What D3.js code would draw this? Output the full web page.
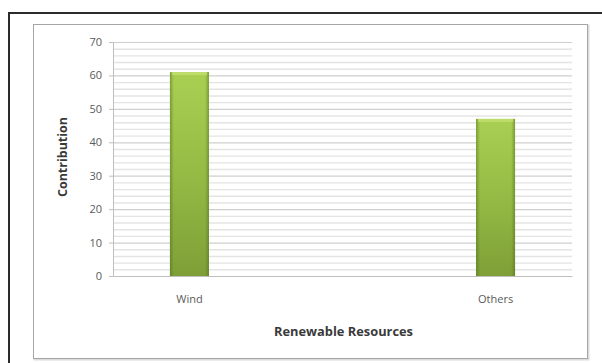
<!DOCTYPE html>
<html>
<head>
<meta charset="utf-8">
<script src="https://cdn.jsdelivr.net/npm/d3@7"></script>
<style>
    body { margin: 0; background: #fff; }
    svg { display: block; font-family: 'Open Sans', 'Liberation Sans', sans-serif; }
</style>
</head>
<body>
<svg id="chart"></svg>
<script>
//chart data
var categories = ['Wind', 'Others'];
var values = [61, 47];
var yTicks = [0, 10, 20, 30, 40, 50, 60, 70];
var minorTicks = d3.range(0, 71, 2);

//chart parameters
var svg = d3.select('#chart')
    .attr('width', 602)
    .attr('height', 363);

//define margins and chart extent
var margin = {top: 42, right: 30, bottom: 87, left: 113},
    width = +svg.attr('width') - margin.left - margin.right,
    height = +svg.attr('height') - margin.top - margin.bottom;

//define scales
var xScale = d3.scaleBand().domain(categories).range([0, width])
        .paddingInner(0.8725).paddingOuter(0.186),
    yScale = d3.scaleLinear().domain([0, 70]).range([height, 0]);

//gradients for bars
var defs = svg.append('defs');
var vgrad = defs.append('linearGradient').attr('id', 'barV')
    .attr('x1', 0).attr('y1', 0).attr('x2', 0).attr('y2', 1);
vgrad.append('stop').attr('offset', '0%').attr('stop-color', '#a9cf52');
vgrad.append('stop').attr('offset', '50%').attr('stop-color', '#95bb45');
vgrad.append('stop').attr('offset', '100%').attr('stop-color', '#7e9f37');
var hgrad = defs.append('linearGradient').attr('id', 'barH')
    .attr('x1', 0).attr('y1', 0).attr('x2', 1).attr('y2', 0);
hgrad.append('stop').attr('offset', '0%').attr('stop-color', '#4f6a1c').attr('stop-opacity', 0.5);
hgrad.append('stop').attr('offset', '10%').attr('stop-color', '#4f6a1c').attr('stop-opacity', 0);
hgrad.append('stop').attr('offset', '90%').attr('stop-color', '#4f6a1c').attr('stop-opacity', 0);
hgrad.append('stop').attr('offset', '100%').attr('stop-color', '#4f6a1c').attr('stop-opacity', 0.5);

//outer frame
svg.append('rect')
    .attr('x', 9).attr('y', 13).attr('width', 610).attr('height', 370)
    .attr('fill', 'none').attr('stroke', '#2b2b2b').attr('stroke-width', 2);

//inner chart frame with shadow
svg.append('rect')
    .attr('x', 34.5).attr('y', 25.5).attr('width', 554).attr('height', 334)
    .attr('fill', 'none').attr('stroke', '#dcdcdc').attr('stroke-width', 2);
svg.append('rect')
    .attr('x', 33.5).attr('y', 24.5).attr('width', 554).attr('height', 334)
    .attr('fill', '#fff').attr('stroke', '#a6a6a6').attr('stroke-width', 1);

//create chart group
var canvas = svg.append('g')
    .attr('transform', 'translate(' + margin.left + ',' + margin.top + ')');

//minor gridlines
canvas.append('g')
    .selectAll('line').data(minorTicks.filter(d => d % 10 !== 0))
    .enter().append('line')
        .attr('x1', 0).attr('x2', width)
        .attr('y1', d => yScale(d) + 0.5).attr('y2', d => yScale(d) + 0.5)
        .attr('stroke', '#e4e4e4').attr('stroke-width', 1.4);

//major gridlines
canvas.append('g')
    .call(d3.axisLeft(yScale).tickValues(yTicks).tickSize(-width).tickFormat(''))
    .call(g => g.select('.domain').remove())
    .call(g => g.selectAll('line').attr('stroke', '#cfcfcf').attr('stroke-width', 1.2));

//y axis
canvas.append('g')
    .call(d3.axisLeft(yScale).tickValues(yTicks).tickSize(4).tickPadding(7))
    .call(g => g.select('.domain').attr('stroke', '#bfbfbf').attr('d', 'M0.5,0V' + height))
    .call(g => g.selectAll('.tick line').attr('stroke', '#bfbfbf'))
    .call(g => g.selectAll('.tick text')
        .attr('fill', '#5a5a5a')
        .style('font-size', '11px')
        .style('font-family', "'Open Sans', sans-serif"));

//x axis
canvas.append('g')
    .attr('transform', 'translate(0,' + height + ')')
    .call(d3.axisBottom(xScale).tickSize(0).tickPadding(19))
    .call(g => g.select('.domain').attr('stroke', '#bfbfbf'))
    .call(g => g.selectAll('.tick text')
        .attr('fill', '#5a5a5a')
        .style('font-size', '11px')
        .style('font-family', "'Open Sans', sans-serif"));

//bars
var bars = canvas.selectAll('.bar').data(values)
    .enter().append('g').attr('class', 'bar');
bars.append('rect')
    .attr('x', (d, i) => xScale(categories[i]))
    .attr('y', d => yScale(d))
    .attr('width', xScale.bandwidth())
    .attr('height', d => height - yScale(d))
    .attr('fill', 'url(#barV)');
bars.append('rect')
    .attr('x', (d, i) => xScale(categories[i]))
    .attr('y', d => yScale(d))
    .attr('width', xScale.bandwidth())
    .attr('height', d => height - yScale(d))
    .attr('fill', 'url(#barH)');
bars.append('rect')
    .attr('x', (d, i) => xScale(categories[i]) + 2)
    .attr('y', d => yScale(d))
    .attr('width', xScale.bandwidth() - 4)
    .attr('height', 3)
    .attr('fill', '#c3e070').attr('opacity', 0.8);

//axis labels
canvas.append('text')
    .attr('x', width / 2 + 1)
    .attr('y', height + 60)
    .attr('text-anchor', 'middle')
    .style('font-size', '11.5px').style('font-weight', 'bold').style('fill', '#3a3a3a')
    .attr('textLength', 139).attr('lengthAdjust', 'spacingAndGlyphs')
    .text('Renewable Resources');

canvas.append('text')
    .attr('transform', 'rotate(-90) translate(' + (-yScale(35) + 2) + ',' + -46 + ')')
    .attr('text-anchor', 'middle')
    .style('font-size', '11.5px').style('font-weight', 'bold').style('fill', '#3a3a3a')
    .attr('textLength', 80).attr('lengthAdjust', 'spacingAndGlyphs')
    .text('Contribution');
</script>
</body>
</html>
